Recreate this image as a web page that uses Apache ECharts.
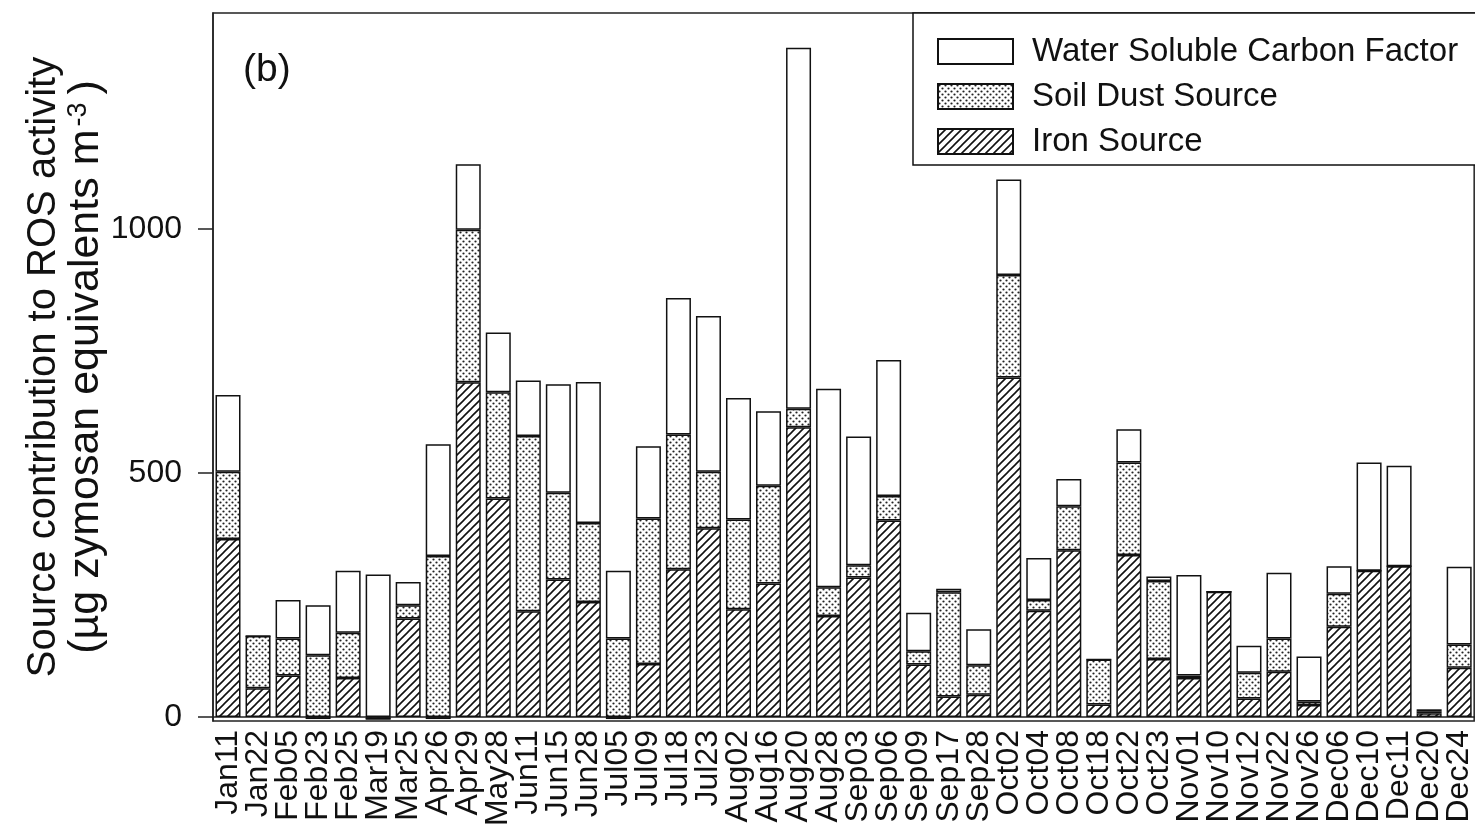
<!DOCTYPE html>
<html>
<head>
<meta charset="utf-8">
<title>Source contribution to ROS activity</title>
<script src="https://cdn.jsdelivr.net/npm/echarts@6/dist/echarts.min.js"></script>
<style>
	html, body { margin: 0; padding: 0; background: #fff; overflow: hidden; }
	#chart { width: 1475px; height: 835px; }
</style>
</head>
<body>
<div id="chart"></div>
<script>
var categories = ['Jan11', 'Jan22', 'Feb05', 'Feb23', 'Feb25', 'Mar19', 'Mar25', 'Apr26', 'Apr29', 'May28',
	'Jun11', 'Jun15', 'Jun28', 'Jul05', 'Jul09', 'Jul18', 'Jul23', 'Aug02', 'Aug16', 'Aug20',
	'Aug28', 'Sep03', 'Sep06', 'Sep09', 'Sep17', 'Sep28', 'Oct02', 'Oct04', 'Oct08', 'Oct18',
	'Oct22', 'Oct23', 'Nov01', 'Nov10', 'Nov12', 'Nov22', 'Nov26', 'Dec06', 'Dec10', 'Dec11',
	'Dec20', 'Dec24'];

// stacked from the bottom: iron, soil dust, water soluble carbon
var ironSource = [365, 59, 85, -4, 80, -4, 202, -4, 686, 448,
	217, 282, 236, -4, 109, 303, 387, 221, 274, 594,
	207, 286, 403, 108, 42, 46, 696, 218, 342, 26,
	332, 119, 80, 257, 38, 93, 25, 185, 300, 309,
	8, 101];
var soilDust = [138, 107, 76, 127, 93, 0, 27, 330, 313, 218,
	359, 178, 162, 161, 298, 276, 116, 184, 200, 38,
	59, 25, 50, 27, 214, 60, 210, 22, 90, 92,
	190, 160, 5, 0, 53, 68, 7, 68, 0, 0,
	4, 48];
var waterCarbon = [157, 0, 79, 102, 127, 292, 48, 229, 134, 122,
	114, 222, 289, 139, 148, 280, 319, 249, 153, 740,
	407, 264, 279, 79, 7, 74, 196, 86, 56, 0,
	68, 9, 206, 0, 55, 135, 92, 56, 222, 206,
	4, 159];

var yTicks = [0, 500, 1000];
var seriesNames = ['Water Soluble Carbon Factor', 'Soil Dust Source', 'Iron Source'];

var FONT = "'Liberation Sans', Arial, Helvetica, sans-serif";

function hatchPattern(){
	var s = 8, c = document.createElement('canvas');
	c.width = s; c.height = s;
	var ctx = c.getContext('2d');
	ctx.fillStyle = '#fff';
	ctx.fillRect(0, 0, s, s);
	ctx.strokeStyle = '#111';
	ctx.lineWidth = 1.6;
	ctx.beginPath();
	ctx.moveTo(-1, s + 1); ctx.lineTo(s + 1, -1);
	ctx.moveTo(-1, 1); ctx.lineTo(1, -1);
	ctx.moveTo(s - 1, s + 1); ctx.lineTo(s + 1, s - 1);
	ctx.stroke();
	return {image: c, repeat: 'repeat'};
}

function dotPattern(){
	var s = 6, c = document.createElement('canvas');
	c.width = s; c.height = s;
	var ctx = c.getContext('2d');
	ctx.fillStyle = '#fff';
	ctx.fillRect(0, 0, s, s);
	ctx.fillStyle = '#222';
	[[1.5, 1.5], [4.5, 4.5]].forEach(function(p){
		ctx.beginPath();
		ctx.arc(p[0], p[1], 1.1, 0, Math.PI * 2);
		ctx.fill();
	});
	return {image: c, repeat: 'repeat'};
}

var barStyle = function(fill){
	return {color: fill, borderColor: '#111', borderWidth: 1.5};
};

var chart = echarts.init(document.getElementById('chart'), null, {renderer: 'canvas'});

var option = {
	backgroundColor: '#fff',
	animation: false,
	textStyle: {fontFamily: FONT, color: '#111'},
	grid: {
		left: 213, top: 13, right: -13, bottom: 114,
		show: true, borderColor: '#222', borderWidth: 1.5,
		containLabel: false
	},
	legend: {
		orient: 'vertical',
		left: 913, top: 13,
		data: seriesNames,
		itemWidth: 75, itemHeight: 25, itemGap: 12,
		padding: [22, 80, 7, 24],
		backgroundColor: '#fff',
		borderColor: '#111', borderWidth: 1.5,
		selectedMode: false,
		icon: 'rect',
		textStyle: {fontFamily: FONT, fontSize: 33, color: '#111', padding: [0, 0, 0, 14]}
	},
	graphic: [{
		type: 'text', left: 243, top: 51, z: 10,
		style: {text: '(b)', font: '39px ' + FONT, fill: '#111'}
	}],
	xAxis: {
		type: 'category',
		data: categories,
		axisLine: {onZero: true, lineStyle: {color: '#222', width: 1.5}},
		axisTick: {show: false},
		axisLabel: {interval: 0, rotate: 90, fontSize: 32, color: '#111', fontFamily: FONT, margin: 9}
	},
	yAxis: {
		type: 'value',
		min: -8, max: 1443,
		splitNumber: 3,
		splitLine: {show: false},
		axisLine: {show: true, lineStyle: {color: '#222', width: 1.5}},
		axisTick: {show: true, length: 15, customValues: yTicks, lineStyle: {color: '#222', width: 1.5}},
		axisLabel: {
			fontSize: 32, color: '#111', fontFamily: FONT, margin: 31,
			customValues: yTicks,
			formatter: function(v){ return String(v); }
		},
		name: '{a|Source contribution to ROS activity}\n{b|(\u00b5g zymosan equivalents m}{s|-3}{b|)}',
		nameLocation: 'middle',
		nameRotate: 90,
		nameGap: 106,
		nameMoveOverlap: false,
		nameTextStyle: {
			fontFamily: FONT, color: '#111',
			rich: {
				a: {fontSize: 40, lineHeight: 42, fontFamily: FONT, color: '#111'},
				b: {fontSize: 43, lineHeight: 42, fontFamily: FONT, color: '#111'},
				s: {fontSize: 27, lineHeight: 26, verticalAlign: 'top', fontFamily: FONT, color: '#111', padding: [0, 8, 0, 3]}
			}
		}
	},
	series: [{
		name: 'Iron Source', type: 'bar', stack: 'ros',
		barWidth: 25, data: ironSource,
		itemStyle: barStyle(hatchPattern())
	}, {
		name: 'Soil Dust Source', type: 'bar', stack: 'ros',
		barWidth: 25, data: soilDust,
		itemStyle: barStyle(dotPattern())
	}, {
		name: 'Water Soluble Carbon Factor', type: 'bar', stack: 'ros',
		barWidth: 25, data: waterCarbon,
		itemStyle: barStyle('#fff')
	}]
};

chart.setOption(option);
</script>
</body>
</html>
